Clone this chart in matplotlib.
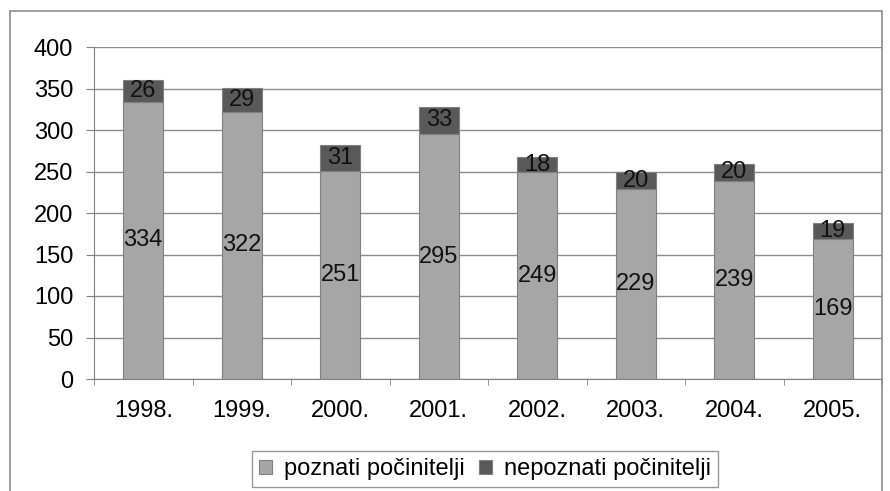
import numpy as np
import matplotlib.pyplot as plt
from matplotlib.patches import Rectangle

plt.rcParams['font.family'] = ['Liberation Sans', 'DejaVu Sans']

godine = ['1998.', '1999.', '2000.', '2001.', '2002.', '2003.', '2004.', '2005.']
poznati = [334, 322, 251, 295, 249, 229, 239, 169]
nepoznati = [26, 29, 31, 33, 18, 20, 20, 19]

svijetla = '#a6a6a6'
tamna = '#595959'
fs = 17

fig = plt.figure(figsize=(8.9, 4.91), dpi=100)
ax = fig.add_axes([94 / 890, 1 - 379 / 491, 788 / 890, 332 / 491])

x = np.arange(len(godine))
b1 = ax.bar(x, poznati, width=0.41, color=svijetla, edgecolor='#808080',
            linewidth=0.8, label='poznati počinitelji', zorder=3)
b2 = ax.bar(x, nepoznati, width=0.41, bottom=poznati, color=tamna,
            edgecolor='#808080', linewidth=0.8, label='nepoznati počinitelji', zorder=3)
ax.bar_label(b1, label_type='center', fontsize=fs, color='#111111')
ax.bar_label(b2, label_type='center', fontsize=fs, color='#111111')

ax.set_xlim(-0.5, len(godine) - 0.5)
ax.set_ylim(0, 400)
ax.set_yticks(range(0, 401, 50))
ax.yaxis.grid(True, color='#8c8c8c', linewidth=1, zorder=0)
ax.set_xticks(x)
ax.set_xticklabels(godine)
ax.set_xticks(np.arange(-0.5, len(godine), 1), minor=True)
ax.tick_params(axis='x', which='major', length=0, pad=15, labelsize=fs)
ax.tick_params(axis='x', which='minor', length=4, color='#808080')
ax.tick_params(axis='y', length=6, color='#808080', labelsize=fs, pad=9)
for s in ['top', 'right']:
    ax.spines[s].set_visible(False)
for s in ['left', 'bottom']:
    ax.spines[s].set_color('#808080')

fig.legend(handles=[b1, b2], loc='center', bbox_to_anchor=(485 / 890, 1 - 469 / 491),
           ncol=2, frameon=True, fancybox=False, edgecolor='#808080', fontsize=fs,
           handlelength=0.55, handleheight=0.55, handletextpad=0.5, columnspacing=0.6,
           borderpad=0.3)

# okvir grafikona
fig.patches.append(Rectangle((10 / 890, -0.01), 872 / 890, 1 - 11 / 491 + 0.01,
                             transform=fig.transFigure, fill=False,
                             edgecolor='#8c8c8c', linewidth=1.2))

fig.savefig('out.png', dpi=100)
